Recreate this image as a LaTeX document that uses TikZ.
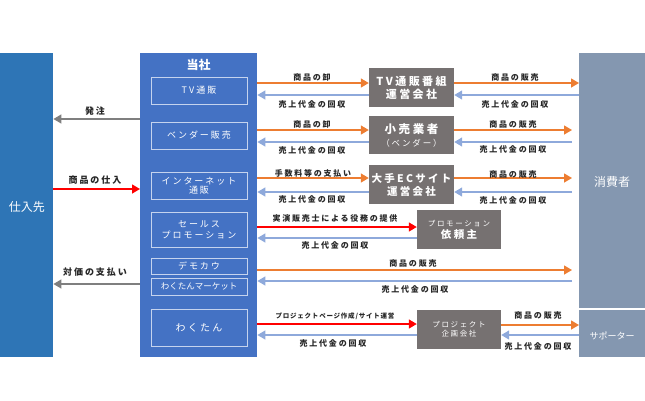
\documentclass[tikz,border=0pt]{standalone}
\usepackage{fontspec}
\newfontfamily\jp[LetterSpace=22]{Noto Sans CJK JP}
\newfontfamily\jpw[LetterSpace=12]{Noto Sans CJK JP}
\newfontfamily\jpn{Noto Sans CJK JP}
\usetikzlibrary{arrows.meta}
\definecolor{shiireC}{HTML}{2E75B6}
\definecolor{toshaC}{HTML}{4472C4}
\definecolor{subB}{HTML}{C5D3EE}
\definecolor{grayB}{HTML}{767171}
\definecolor{consC}{HTML}{8497B0}
\definecolor{orangeA}{HTML}{ED7D31}
\definecolor{blueA}{HTML}{8EA9DB}
\definecolor{grayA}{HTML}{7F7F7F}
\tikzset{
  lbl/.style={font=\jp\bfseries\fontsize{8}{9}\selectfont, text=black!85, inner sep=0pt},
  llbl/.style={font=\jp\bfseries\fontsize{9}{10}\selectfont, text=black!85, inner sep=0pt},
  slbl/.style={font=\jpw\bfseries\fontsize{6.5}{7}\selectfont, text=black!85, inner sep=0pt},
  subbox/.style={draw=subB, line width=0.8pt, text=white, align=center, inner sep=0pt, minimum width=96pt, font=\jp\fontsize{9}{11}\selectfont},
  gbox/.style={fill=grayB, text=white, align=center, inner sep=0pt, minimum width=85pt},
  big/.style={fill=#1, inner sep=0pt, anchor=north west},
  arr/.style={line width=1.4pt, -{Triangle[length=8pt,width=9pt]}},
  oarr/.style={arr, draw=orangeA, -{Triangle[length=8pt,width=9pt,fill=orangeA]}},
  barr/.style={arr, draw=blueA, -{Triangle[length=8pt,width=9pt,fill=blueA]}},
  rarr/.style={arr, draw=red, -{Triangle[length=8pt,width=9pt,fill=red]}},
  garr/.style={arr, draw=grayA, -{Triangle[length=8pt,width=9pt,fill=grayA]}},
}
\begin{document}
\begin{tikzpicture}[x=1pt,y=-1pt]
\useasboundingbox (0,0) rectangle (645,400);
% big boxes
\node[big=shiireC, minimum width=53pt, minimum height=304pt] (shiire) at (0,53) {};
\node[text=white, font=\jpn\fontsize{12}{14}\selectfont] (shiireT) at (27,207) {仕入先};
\node[big=toshaC, minimum width=117pt, minimum height=304pt] (tosha) at (140,53) {};
\node[text=white, font=\jpn\bfseries\fontsize{12}{14}\selectfont] (toshaT) at (198.5,65) {当社};
\node[big=consC, minimum width=66pt, minimum height=255pt] (cons) at (579,53) {};
\node[text=white, font=\jpn\fontsize{12}{14}\selectfont] (consT) at (612,182) {消費者};
\node[big=consC, minimum width=66pt, minimum height=47pt] (sup) at (579,310) {};
\node[text=white, font=\jpn\fontsize{9}{11}\selectfont] (supT) at (612,336) {サポーター};
% sub boxes
\node[subbox, minimum height=27pt] (tv) at (199,90.5) {TV通販};
\node[subbox, minimum height=27pt] (vend) at (199,135.5) {ベンダー販売};
\node[subbox, minimum height=27pt, font=\jp\fontsize{9}{9.5}\selectfont] (inet) at (199,185.5) {インターネット\\通販};
\node[subbox, minimum height=35pt, font=\jp\fontsize{9}{11}\selectfont] (sp) at (199,229.5) {セールス\\プロモーション};
\node[subbox, minimum height=16pt] (demo) at (199,266) {デモカウ};
\node[subbox, minimum height=17pt, font=\jpn\fontsize{8.5}{10}\selectfont] (wkm) at (199,286.5) {わくたんマーケット};
\node[subbox, minimum height=37pt, font=\jp\fontsize{10}{12}\selectfont] (wk) at (199,327.5) {わくたん};
% gray boxes
\node[gbox, minimum height=39pt, font=\jp\bfseries\fontsize{11}{13}\selectfont] (tvb) at (411.5,87.5) {TV通販番組\\運営会社};
\node[gbox, minimum height=38pt] (kouri) at (411.5,135) {{\jp\bfseries\fontsize{11.5}{13}\selectfont 小売業者}\\[1pt]{\jp\fontsize{8.5}{10}\selectfont （ベンダー）}};
\node[gbox, minimum height=39pt, font=\jp\bfseries\fontsize{10.5}{13}\selectfont] (ec) at (411.5,184.5) {大手ECサイト\\運営会社};
\node[gbox, minimum width=84pt, minimum height=39pt] (promo) at (459,229.5) {{\jp\fontsize{7.5}{9}\selectfont プロモーション}\\{\jp\bfseries\fontsize{10.5}{12}\selectfont 依頼主}};
\node[gbox, minimum width=84pt, minimum height=39pt, font=\jp\fontsize{7.5}{9}\selectfont] (proj) at (459,329.5) {プロジェクト\\企画会社};
% left arrows
\draw[garr] (tosha.west |- 0,119) -- (shiire.east |- 0,119);
\node[llbl] (l1) at (95,111) {発注};
\draw[rarr] (shiire.east |- 0,189) -- (tosha.west |- 0,189);
\node[llbl] (l2) at (95,180) {商品の仕入};
\draw[garr] (tosha.west |- 0,284) -- (shiire.east |- 0,284);
\node[llbl] (l3) at (95,272) {対価の支払い};
% row 1
\draw[oarr] (tosha.east |- 0,83) -- (tvb.west |- 0,83);
\draw[barr] (tvb.west |- 0,95) -- (tosha.east |- 0,95);
\node[lbl] at (312,77) {商品の卸};
\node[lbl] at (312,104) {売上代金の回収};
\draw[oarr] (tvb.east |- 0,83) -- (cons.west |- 0,83);
\draw[barr] (cons.west |- 0,95) -- (tvb.east |- 0,95);
\node[lbl] at (515,77) {商品の販売};
\node[lbl] at (515,104) {売上代金の回収};
% row 2
\coordinate (c2) at (572,130);
\coordinate (c2b) at (572,142);
\draw[oarr] (tosha.east |- 0,130) -- (kouri.west |- 0,130);
\draw[barr] (kouri.west |- 0,142) -- (tosha.east |- 0,142);
\node[lbl] at (312,124) {商品の卸};
\node[lbl] at (312,150) {売上代金の回収};
\draw[oarr] (kouri.east |- c2) -- (c2);
\draw[barr] (c2b) -- (kouri.east |- c2b);
\node[lbl] at (513,124) {商品の販売};
\node[lbl] at (513,149) {売上代金の回収};
% row 3
\coordinate (c3) at (572,178);
\coordinate (c3b) at (572,192);
\draw[oarr] (tosha.east |- 0,178) -- (ec.west |- 0,178);
\draw[barr] (ec.west |- 0,192) -- (tosha.east |- 0,192);
\node[lbl] at (313,173) {手数料等の支払い};
\node[lbl] at (312,199) {売上代金の回収};
\draw[oarr] (ec.east |- c3) -- (c3);
\draw[barr] (c3b) -- (ec.east |- c3b);
\node[lbl] at (513,174) {商品の販売};
\node[lbl] at (513,200) {売上代金の回収};
% row 4
\draw[rarr] (tosha.east |- 0,227) -- (promo.west |- 0,227);
\draw[barr] (promo.west |- 0,238) -- (tosha.east |- 0,238);
\node[lbl] at (335,218) {実演販売士による役務の提供};
\node[lbl] at (335,245) {売上代金の回収};
% row 5
\coordinate (c5) at (572,270);
\coordinate (c5b) at (572,281);
\draw[oarr] (tosha.east |- c5) -- (c5);
\draw[barr] (c5b) -- (tosha.east |- c5b);
\node[lbl] at (413,263) {商品の販売};
\node[lbl] at (415,289) {売上代金の回収};
% row 6
\draw[rarr] (tosha.east |- 0,324) -- (proj.west |- 0,324);
\draw[barr] (proj.west |- 0,335) -- (tosha.east |- 0,335);
\node[slbl] at (335,316) {プロジェクトページ作成/サイト運営};
\node[lbl] at (333,343) {売上代金の回収};
\draw[oarr] (proj.east |- 0,325) -- (sup.west |- 0,325);
\draw[barr] (sup.west |- 0,335) -- (proj.east |- 0,335);
\node[lbl] at (538,315) {商品の販売};
\node[lbl] at (538,346) {売上代金の回収};
\end{tikzpicture}
\end{document}
